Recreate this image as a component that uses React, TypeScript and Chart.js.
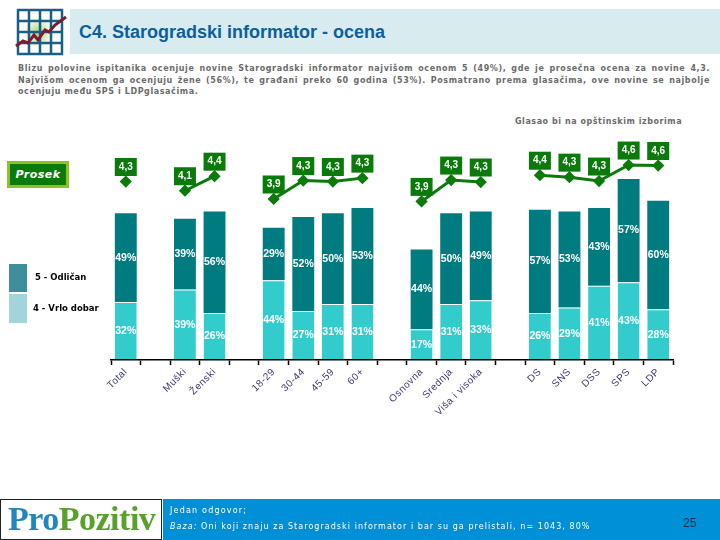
import React, { useEffect, useRef } from "react";
import { Chart, registerables } from "chart.js";

Chart.register(...registerables);

const categories = ["Total", "", "Muški", "Ženski", "", "18-29", "30-44", "45-59", "60+", "", "Osnovna", "Srednja", "Viša i visoka", "", "DS", "SNS", "DSS", "SPS", "LDP"];
const odlican = [49, null, 39, 56, null, 29, 52, 50, 53, null, 44, 50, 49, null, 57, 53, 43, 57, 60];
const vrloDobar = [32, null, 39, 26, null, 44, 27, 31, 31, null, 17, 31, 33, null, 26, 29, 41, 43, 28];
const prosek = [4.26, null, 4.07, 4.37, null, 3.9, 4.28, 4.26, 4.33, null, 3.85, 4.29, 4.25, null, 4.39, 4.35, 4.27, 4.6, 4.59];
const prosekLabels = ["4,3", "", "4,1", "4,4", "", "3,9", "4,3", "4,3", "4,3", "", "3,9", "4,3", "4,3", "", "4,4", "4,3", "4,3", "4,6", "4,6"];

const title = "C4. Starogradski informator - ocena";
const bodyLines = [
  "Blizu polovine ispitanika ocenjuje novine Starogradski informator najvišom ocenom 5 (49%), gde je prosečna ocena za novine 4,3.",
  "Najvišom ocenom ga ocenjuju žene (56%), te građani preko 60 godina (53%). Posmatrano prema glasačima, ove novine se najbolje",
  "ocenjuju među SPS i LDPglasačima.",
];

const GREEN = "#0a7a0a";
const DARK = "#007b7f";
const LIGHT = "#33cccc";

const labelsPlugin = {
  id: "labels",
  beforeDraw(chart: any) {
    (chart.ctx as any).letterSpacing = "0.5px";
  },
  afterDatasetsDraw(chart: any) {
    const ctx = chart.ctx;
    ctx.save();
    (ctx as any).letterSpacing = "0px";
    ctx.textAlign = "center";
    ctx.textBaseline = "middle";
    ctx.font = "bold 10.5px 'Liberation Sans'";
    ctx.fillStyle = "#ffffff";
    [0, 1].forEach((ds) => {
      const meta = chart.getDatasetMeta(ds);
      const vals = chart.data.datasets[ds].data;
      meta.data.forEach((el: any, i: number) => {
        if (vals[i] == null) return;
        ctx.fillText(vals[i] + "%", el.x, (el.y + el.base) / 2);
      });
    });
    ctx.font = "bold 10px 'Liberation Sans'";
    const meta = chart.getDatasetMeta(2);
    meta.data.forEach((el: any, i: number) => {
      if (!prosekLabels[i]) return;
      const w = 22;
      const h = 18;
      const cy = el.y - 14.5;
      ctx.fillStyle = GREEN;
      ctx.fillRect(el.x - w / 2, cy - h / 2, w, h);
      ctx.fillStyle = "#ffffff";
      ctx.fillText(prosekLabels[i], el.x, cy);
    });
    ctx.restore();
  },
};

function App() {
  const ref = useRef<HTMLCanvasElement>(null);
  useEffect(() => {
    const chart = new Chart(ref.current as HTMLCanvasElement, {
      data: {
        labels: categories,
        datasets: [
          { type: "bar", label: "4 - Vrlo dobar", data: vrloDobar, backgroundColor: LIGHT, borderColor: "#ffffff", borderWidth: { top: 1 }, borderSkipped: false, stack: "a", order: 2, yAxisID: "y" },
          { type: "bar", label: "5 - Odličan", data: odlican, backgroundColor: DARK, stack: "a", order: 3, yAxisID: "y" },
          { type: "line", label: "Prosek", data: prosek, borderColor: GREEN, backgroundColor: GREEN, borderWidth: 3, pointStyle: "rectRot", pointRadius: 4, pointBackgroundColor: GREEN, pointBorderColor: GREEN, spanGaps: false, tension: 0, order: 1, yAxisID: "y2" },
        ] as any,
      },
      options: {
        animation: false,
        responsive: false,
        layout: { padding: { left: 111, right: 47, top: 150, bottom: 0 } },
        plugins: { legend: { display: false }, tooltip: { enabled: false } },
        scales: {
          x: {
            stacked: true,
            offset: true,
            afterFit: (s: any) => { s.height = 180; },
            border: { color: "#000000", width: 1.5, z: 1 },
            grid: { display: true, z: 1, drawOnChartArea: false, drawTicks: true, tickLength: 5, tickWidth: 1.5, tickColor: "#000000", color: "#000000", offset: true },
            ticks: { autoSkip: false, maxRotation: 45, minRotation: 45, color: "#3a3a70", padding: 1, font: { family: "'Liberation Sans'", size: 10 } },
          } as any,
          y: { display: false, stacked: true, min: 0, max: 116 },
          y2: { display: false, min: 0.58, max: 4.91 },
        },
        datasets: { bar: { barPercentage: 0.74, categoryPercentage: 1 } },
      } as any,
      plugins: [labelsPlugin],
    });
    return () => chart.destroy();
  }, []);

  const abs = (s: React.CSSProperties): React.CSSProperties => ({ position: "absolute", ...s });
  const small = "'DejaVu Sans'";
  const logoText = (
    <>
      <span style={{ color: "#1f86c0" }}>Pro</span><span style={{ color: "#5aa02c" }}>Pozitiv</span>
    </>
  );
  const logoStyle: React.CSSProperties = { fontFamily: "'Liberation Serif'", fontWeight: 700, fontSize: 34, lineHeight: "38px", whiteSpace: "nowrap", letterSpacing: -0.5 };
  return (
    <div style={{ position: "absolute", left: 0, top: 0, width: 720, height: 540, background: "#fff", overflow: "hidden" }}>
      <style>{"body{margin:0}"}</style>
      {/* header */}
      <div style={abs({ left: 70, top: 9, width: 650, height: 45, background: "#d8ecef" })} />
      <svg style={abs({ left: 14, top: 8 })} width="54" height="48" viewBox="0 0 54 48">
        <defs>
          <radialGradient id="halo">
            <stop offset="0%" stopColor="#a9d678" />
            <stop offset="100%" stopColor="#ffffff" />
          </radialGradient>
        </defs>
        <rect x="4" y="2" width="44" height="44" fill="#fff" />
        <ellipse cx="24" cy="25" rx="15" ry="16" fill="url(#halo)" />
        {[0, 1, 2, 3, 4].map((k) => (
          <g key={k}>
            <line x1={4 + k * 11} y1="1" x2={4 + k * 11} y2="46" stroke="#1a5f86" strokeWidth="2.5" />
            <line x1="3" y1={2 + k * 11} x2="49" y2={2 + k * 11} stroke="#1a5f86" strokeWidth="2.5" />
          </g>
        ))}
        <polyline points="2,38 9,33 14,35 20,27 24,32 31,22 35,24 41,17 52,9" fill="none" stroke="#7e1b34" strokeWidth="3" />
      </svg>
      <div style={abs({ left: 79, top: 22, fontFamily: "'Liberation Sans'", fontWeight: 700, fontSize: 18, lineHeight: "20px", color: "#0b5f9e", whiteSpace: "nowrap" })}>{title}</div>
      {bodyLines.map((l, i) => (
        <div key={i} style={abs({ left: 18, top: 63 + i * 11.5, width: 692, fontFamily: small, fontWeight: 700, fontSize: 8, lineHeight: "11px", color: "#6b6b6b", whiteSpace: "nowrap", letterSpacing: 0.6, textAlign: i < 2 ? "justify" : "left", textAlignLast: i < 2 ? "justify" : "left" })}>{l}</div>
      ))}
      <div style={abs({ left: 515, top: 116, fontFamily: small, fontWeight: 700, fontSize: 8, lineHeight: "12px", color: "#6b6b6b", whiteSpace: "nowrap", letterSpacing: 0.55 })}>Glasao bi na opštinskim izborima</div>

      <canvas ref={ref} width={720} height={540} style={abs({ left: 0, top: 0, display: "block" })} />

      {/* Prosek box */}
      <div style={abs({ left: 7, top: 161, width: 62, height: 27, boxSizing: "border-box", background: GREEN, border: "3px solid #8dc21f", color: "#fff", fontFamily: small, fontStyle: "italic", fontWeight: 700, fontSize: 11, lineHeight: "21px", textAlign: "center", letterSpacing: 0.5 })}>Prosek</div>
      {/* legend */}
      <div style={abs({ left: 9, top: 264, width: 18, height: 28, background: "#3f8f9a" })} />
      <div style={abs({ left: 9, top: 294, width: 18, height: 29, background: "#a3d4dc" })} />
      <div style={abs({ left: 35, top: 271, fontFamily: small, fontWeight: 700, fontSize: 8.5, lineHeight: "12px", color: "#000", whiteSpace: "nowrap" })}>5 - Odličan</div>
      <div style={abs({ left: 33, top: 302, fontFamily: small, fontWeight: 700, fontSize: 8.5, lineHeight: "12px", color: "#000", whiteSpace: "nowrap" })}>4 - Vrlo dobar</div>

      {/* footer */}
      <div style={abs({ left: 163, top: 499, width: 557, height: 41, background: "#0090d8" })} />
      <div style={abs({ left: 0, top: 499, width: 162, height: 41, boxSizing: "border-box", border: "1px solid #222", background: "#fff", overflow: "hidden" })}>
        <div style={abs({ left: 7, top: 0, ...logoStyle })}>{logoText}</div>
        <div style={abs({ left: 7, top: 26, opacity: 0.25, transform: "scaleY(-0.45)", ...logoStyle })}>{logoText}</div>
      </div>
      <div style={abs({ left: 170, top: 505, fontFamily: small, fontSize: 8, lineHeight: "12px", color: "#fff", whiteSpace: "nowrap", letterSpacing: 1.2 })}>Jedan odgovor;</div>
      <div style={abs({ left: 170, top: 521, fontFamily: small, fontSize: 8, lineHeight: "12px", color: "#fff", whiteSpace: "nowrap", letterSpacing: 1.05 })}><i>Baza:</i> Oni koji znaju za Starogradski informator i bar su ga prelistali, n= 1043, 80%</div>
      <div style={abs({ left: 683, top: 516, fontFamily: "'Liberation Sans'", fontSize: 12, lineHeight: "14px", color: "#12304a", whiteSpace: "nowrap" })}>25</div>
    </div>
  );
}

export default App;
